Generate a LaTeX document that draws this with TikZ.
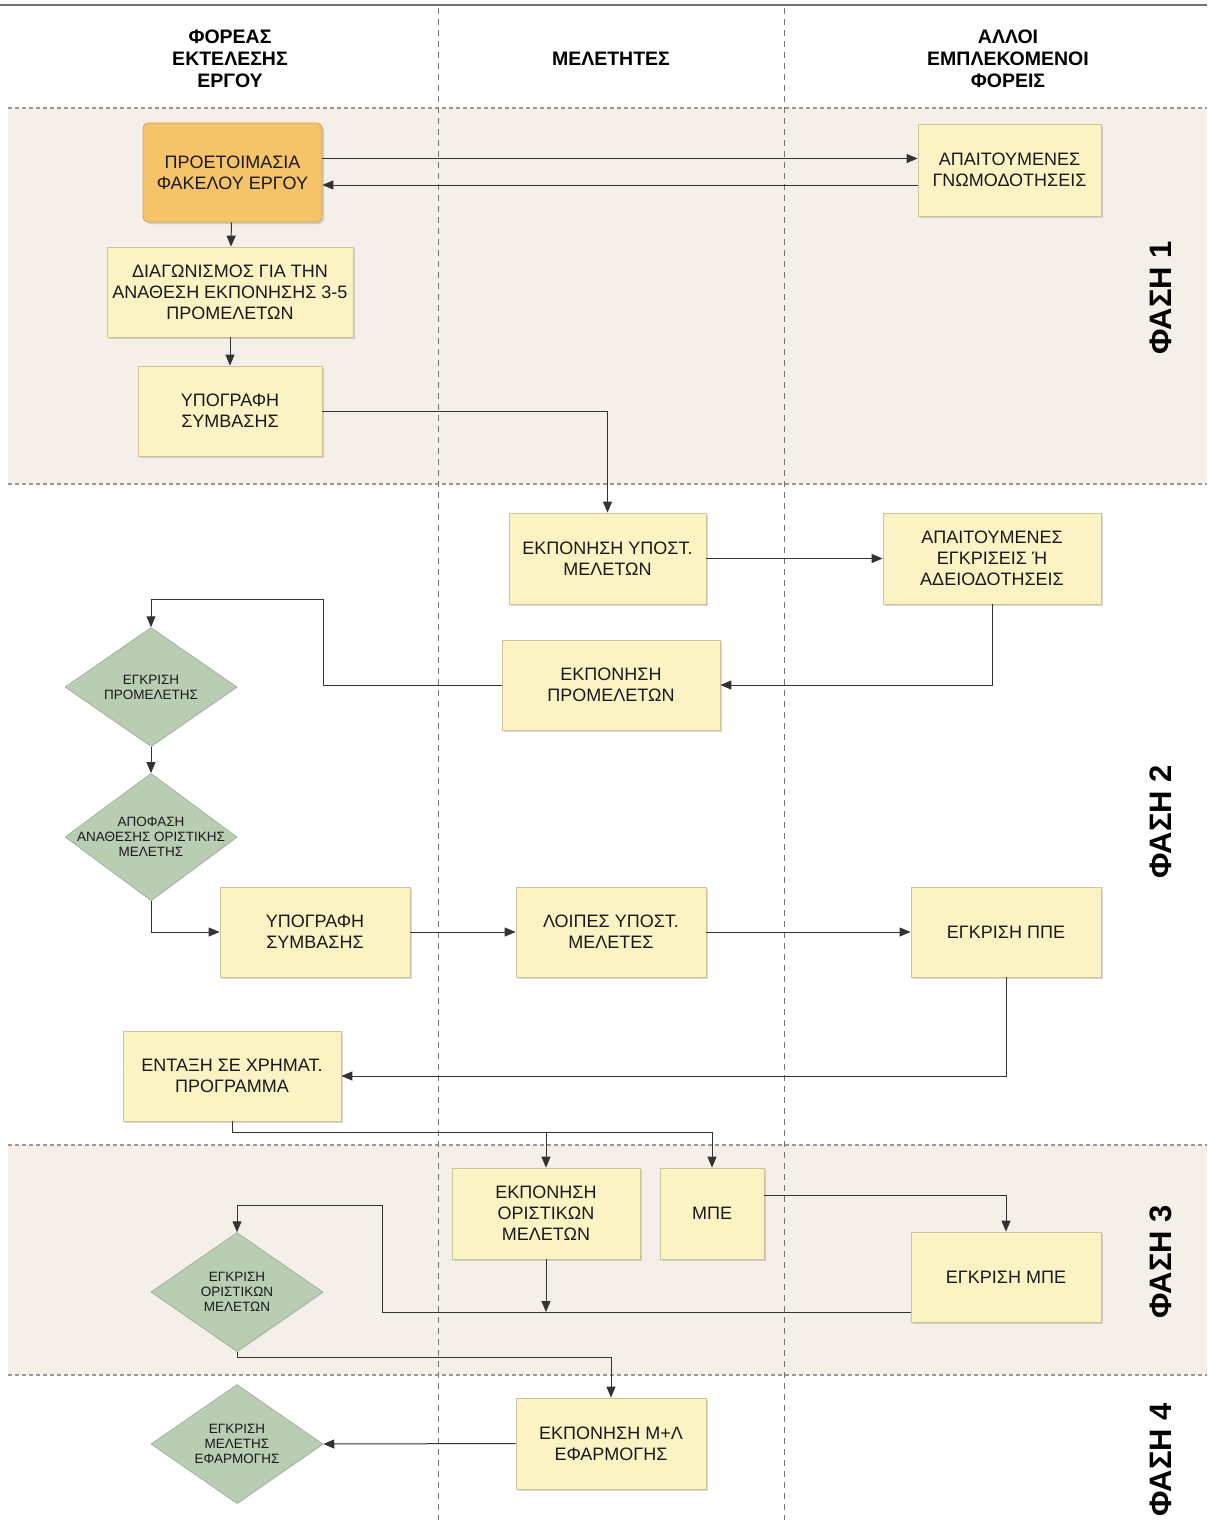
\documentclass[tikz,border=0pt]{standalone}
\usepackage{fontspec}
\setmainfont{Liberation Sans}
\usetikzlibrary{shadows}
\usetikzlibrary{positioning}
\usetikzlibrary{arrows.meta,shapes.geometric}
\usetikzlibrary{calc}
\definecolor{bandfill}{HTML}{F5EFE9}
\definecolor{boxfill}{HTML}{FBF3C4}
\definecolor{boxline}{HTML}{CFC497}
\definecolor{prepfill}{HTML}{F5C36A}
\definecolor{prepline}{HTML}{D9A550}
\definecolor{diafill}{HTML}{B9CDB3}
\newcommand{\boxfont}{\fontsize{18}{21}\selectfont}
\newcommand{\diafont}{\fontsize{13.5}{15}\selectfont}
\tikzstyle{box}=[rectangle,fill=boxfill,draw=boxline,line width=0.8pt,align=center,font=\boxfont,text=black!90,drop shadow={shadow xshift=2pt,shadow yshift=-2pt,opacity=0.3}]
\tikzstyle{prepbox}=[box,fill=prepfill,draw=prepline,rounded corners=5pt]
\tikzstyle{dia}=[diamond,fill=diafill,draw=diafill!80!black,line width=0.5pt,align=center,font=\diafont,text=black!90,minimum width=172pt,minimum height=119pt,inner xsep=-30pt,inner ysep=0pt,drop shadow={shadow xshift=1pt,shadow yshift=-1pt,opacity=0.15}]
\tikzstyle{header}=[align=center,font=\fontsize{19.5}{22}\selectfont\bfseries]
\tikzstyle{phase}=[rotate=90,font=\fontsize{31}{32}\selectfont\bfseries]
\tikzstyle{conn}=[draw,line width=1pt,black!80,-{Triangle[length=11pt,width=9pt]}]
\tikzstyle{band}=[fill=bandfill]
\tikzstyle{bandedge}=[line width=1.5pt,black!40,dash pattern=on 4pt off 3pt]
\tikzstyle{lane}=[line width=0.8pt,black!55,dash pattern=on 6pt off 5pt]

\begin{document}
\begin{tikzpicture}[x=1pt,y=-1pt]

  \useasboundingbox (0,0) rectangle (1207,1520);

  % phase bands
  \fill[band] (8,108) rectangle (1207,484);
  \fill[band] (8,1145) rectangle (1207,1375);
  \foreach \y in {108,484,1145,1375}
     \draw[bandedge] (8,\y) -- (1207,\y);

  % lanes
  \draw[line width=2pt, black!55] (0,5) -- (1207,5);
  \foreach \x in {438,784}
     \draw[lane] (\x,8) -- (\x,1520);

  \node[header] (hd1) at (230,59) {ΦΟΡΕΑΣ\\ΕΚΤΕΛΕΣΗΣ\\ΕΡΓΟΥ};
  \node[header] (hd2) at (611,59) {ΜΕΛΕΤΗΤΕΣ};
  \node[header] (hd3) at (1008,59) {ΑΛΛΟΙ\\ΕΜΠΛΕΚΟΜΕΝΟΙ\\ΦΟΡΕΙΣ};

  \foreach \y/\name/\label in {298/ph1/ΦΑΣΗ 1, 822/ph2/ΦΑΣΗ 2, 1262/ph3/ΦΑΣΗ 3, 1460/ph4/ΦΑΣΗ 4}
     \node[phase] (\name) at (1161,\y) {\label};

  % process boxes
  \node[prepbox, minimum width=179pt, minimum height=99pt] (prep) at (232.5,172.5) {ΠΡΟΕΤΟΙΜΑΣΙΑ\\ΦΑΚΕΛΟΥ ΕΡΓΟΥ};

  \foreach \x/\y/\w/\h/\name/\label in {
     1009.5/170/183/92/gnom/{ΑΠΑΙΤΟΥΜΕΝΕΣ\\ΓΝΩΜΟΔΟΤΗΣΕΙΣ},
     230/292/246/90/diag/{ΔΙΑΓΩΝΙΣΜΟΣ ΓΙΑ ΤΗΝ\\ΑΝΑΘΕΣΗ ΕΚΠΟΝΗΣΗΣ 3-5\\ΠΡΟΜΕΛΕΤΩΝ},
     230/411/184/90/sign1/{ΥΠΟΓΡΑΦΗ\\ΣΥΜΒΑΣΗΣ},
     607.5/558.5/197/91/ypost/{ΕΚΠΟΝΗΣΗ ΥΠΟΣΤ.\\ΜΕΛΕΤΩΝ},
     992/558.5/218/91/egkr/{ΑΠΑΙΤΟΥΜΕΝΕΣ\\ΕΓΚΡΙΣΕΙΣ Ή\\ΑΔΕΙΟΔΟΤΗΣΕΙΣ},
     611/685/218/90/promel/{ΕΚΠΟΝΗΣΗ\\ΠΡΟΜΕΛΕΤΩΝ},
     315/932/190/90/sign2/{ΥΠΟΓΡΑΦΗ\\ΣΥΜΒΑΣΗΣ},
     611/932/190/90/loipes/{ΛΟΙΠΕΣ ΥΠΟΣΤ.\\ΜΕΛΕΤΕΣ},
     1006/932/190/90/ppe/{ΕΓΚΡΙΣΗ ΠΠΕ},
     232/1076/218/90/entaxi/{ΕΝΤΑΞΗ ΣΕ ΧΡΗΜΑΤ.\\ΠΡΟΓΡΑΜΜΑ},
     546/1213.5/188/91/orist/{ΕΚΠΟΝΗΣΗ\\ΟΡΙΣΤΙΚΩΝ\\ΜΕΛΕΤΩΝ},
     712/1213.5/104/91/mpe/{ΜΠΕ},
     1006/1277/190/90/egmpe/{ΕΓΚΡΙΣΗ ΜΠΕ},
     611/1443.5/190/91/ml/{ΕΚΠΟΝΗΣΗ Μ+Λ\\ΕΦΑΡΜΟΓΗΣ}}
     \node[box, minimum width=\w pt, minimum height=\h pt] (\name) at (\x,\y) {\label};

  % decisions
  \foreach \x/\y/\name/\label in {
     151/687/d1/{ΕΓΚΡΙΣΗ\\ΠΡΟΜΕΛΕΤΗΣ},
     151/837/d2/{ΑΠΟΦΑΣΗ\\ΑΝΑΘΕΣΗΣ ΟΡΙΣΤΙΚΗΣ\\ΜΕΛΕΤΗΣ},
     237/1292/d3/{ΕΓΚΡΙΣΗ\\ΟΡΙΣΤΙΚΩΝ\\ΜΕΛΕΤΩΝ},
     237/1444/d4/{ΕΓΚΡΙΣΗ\\ΜΕΛΕΤΗΣ\\ΕΦΑΡΜΟΓΗΣ}}
     \node[dia] (\name) at (\x,\y) {\label};

  \coordinate (k1) at (323,599);
  \coordinate (k2) at (382,1205);
  \coordinate (split) at ([yshift=35pt]mpe.north);
  \coordinate (back) at ([yshift=-35pt]egmpe.west);

  % connectors
  \draw[conn] ([yshift=14pt]prep.east) -- ([yshift=14pt]prep.east -| gnom.west);
  \draw[conn] ([yshift=-15pt]gnom.west) -- ([yshift=-15pt]gnom.west -| prep.east);
  \draw[conn] (prep) -- (diag);
  \draw[conn] (diag) -- (sign1);
  \draw[conn] (sign1.east) -| (ypost.north);
  \draw[conn] (ypost.east) -- (egkr.west);
  \draw[conn] (egkr.south) |- (promel.east);
  \draw[conn] (promel.west) -| (k1) -| (d1.north);
  \draw[conn] (d1.south) -- (d2.north);
  \draw[conn] (d2.south) |- (sign2.west);
  \draw[conn] (sign2.east) -- (loipes.west);
  \draw[conn] (loipes.east) -- (ppe.west);
  \draw[conn] (ppe.south) |- (entaxi.east);
  \draw[conn] (entaxi.south) |- (split) -- (mpe.north);
  \draw[conn] (orist.north |- split) -- (orist.north);
  \draw[conn] ([yshift=18pt]mpe.east) -| (egmpe.north);
  \draw[conn] (back) -| (k2) -| (d3.north);
  \draw[conn] (orist.south) -- (orist.south |- back);
  \draw[conn] (d3.south) |- ([yshift=40pt]ml.north) -- (ml.north);
  \draw[conn] (ml.west) -- (d4.east);

\end{tikzpicture}
\end{document}
